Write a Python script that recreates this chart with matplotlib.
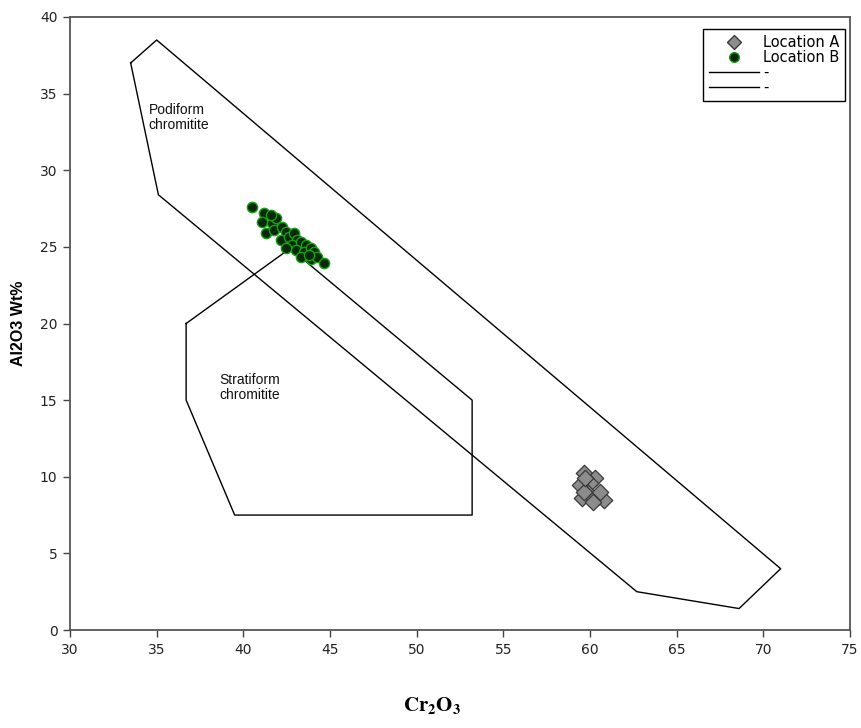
import matplotlib
matplotlib.use("Agg")
import matplotlib.pyplot as plt
from matplotlib.lines import Line2D

plt.rcParams['font.family'] = ['Liberation Sans', 'DejaVu Sans']
plt.rcParams['mathtext.fontset'] = 'stix'

# Discrimination field boundaries (Cr2O3, Al2O3)
podiform_x = [33.5, 35.0, 71.0, 68.6, 62.7, 35.1, 33.5]
podiform_y = [37.0, 38.5, 4.0, 1.4, 2.5, 28.4, 37.0]
stratiform_x = [36.7, 42.7, 53.2, 53.2, 39.5, 36.7, 36.7]
stratiform_y = [20.0, 24.9, 15.0, 7.5, 7.5, 15.0, 20.0]

# Location A (grey diamonds)
locA_x = [59.63, 60.30, 60.01, 59.44, 59.53, 60.49, 60.78, 59.91, 60.20, 59.63, 59.72, 60.59]
locA_y = [10.22, 9.89, 9.57, 9.46, 8.59, 8.70, 8.48, 8.92, 8.37, 9.02, 9.89, 9.02]

# Location B (green circles)
locB_x = [40.52, 41.19, 41.10, 41.67, 41.29, 41.77, 42.25, 42.44, 42.15, 42.63, 42.92,
          43.11, 42.83, 43.31, 43.59, 43.02, 43.50, 43.88, 44.07, 42.44, 43.88, 44.27,
          44.65, 41.87, 41.58, 43.31, 43.79]
locB_y = [27.61, 27.18, 26.64, 26.53, 25.88, 26.09, 26.31, 25.98, 25.44, 25.66, 25.88,
          25.44, 25.11, 25.33, 25.11, 24.79, 24.68, 24.90, 24.68, 24.90, 24.24, 24.35,
          23.92, 26.86, 27.07, 24.35, 24.46]

x_ticks = [30, 35, 40, 45, 50, 55, 60, 65, 70, 75]
y_ticks = [0, 5, 10, 15, 20, 25, 30, 35, 40]

fig = plt.figure(figsize=(8.62, 7.28), dpi=100)
ax = fig.add_axes([70/862, 1 - 630/728, 780/862, 613/728])

ax.plot(podiform_x, podiform_y, color='black', lw=1.0, zorder=2)
ax.plot(stratiform_x, stratiform_y, color='black', lw=1.0, zorder=2)

ax.scatter(locA_x, locA_y, marker='D', s=70, facecolor='#8c8c8c', edgecolor='#3a3a3a',
           linewidths=0.9, zorder=3)
ax.scatter(locB_x, locB_y, marker='o', s=55, facecolor='#062a06', edgecolor='#17a017',
           linewidths=1.0, zorder=3)

ax.text(34.55, 34.4, "Podiform\nchromitite", fontsize=10, va='top', ha='left',
        color='#111111', linespacing=1.1)
ax.text(38.6, 16.8, "Stratiform\nchromitite", fontsize=10, va='top', ha='left',
        color='#111111', linespacing=1.1)

ax.set_xlim(30, 75)
ax.set_ylim(0, 40)
ax.set_xticks(x_ticks)
ax.set_yticks(y_ticks)
ax.tick_params(direction='out', length=5, width=1, color='#444444', labelsize=10,
               labelcolor='#222222', pad=4)
for lab in ax.get_xticklabels() + ax.get_yticklabels():
    lab.set_family(['DejaVu Sans'])
for s in ax.spines.values():
    s.set_color('#555555')
    s.set_linewidth(1.3)

ax.set_ylabel("Al2O3 Wt%", fontsize=11.5, fontweight='bold', labelpad=10)
fig.text(432/862, 1 - 705/728, r"$\mathbf{Cr_2O_3}$", fontsize=15, ha='center', va='center')

handles = [
    Line2D([], [], marker='D', ls='none', markersize=7, markerfacecolor='#8c8c8c',
           markeredgecolor='#3a3a3a'),
    Line2D([], [], marker='o', ls='none', markersize=7, markerfacecolor='#062a06',
           markeredgecolor='#17a017'),
    Line2D([], [], color='black', lw=1.0),
    Line2D([], [], color='black', lw=1.0),
]
leg = ax.legend(handles, ["Location A", "Location B", "-", "-"], loc='upper right',
                bbox_to_anchor=(0.994, 0.98), borderaxespad=0,
                prop={'family': 'DejaVu Sans', 'size': 10.5},
                fancybox=False, framealpha=1, edgecolor='black', labelspacing=0.0,
                handlelength=3.4, handletextpad=0.3, borderpad=0.4)
leg.get_frame().set_linewidth(1.0)

fig.savefig("out.png", dpi=100)
